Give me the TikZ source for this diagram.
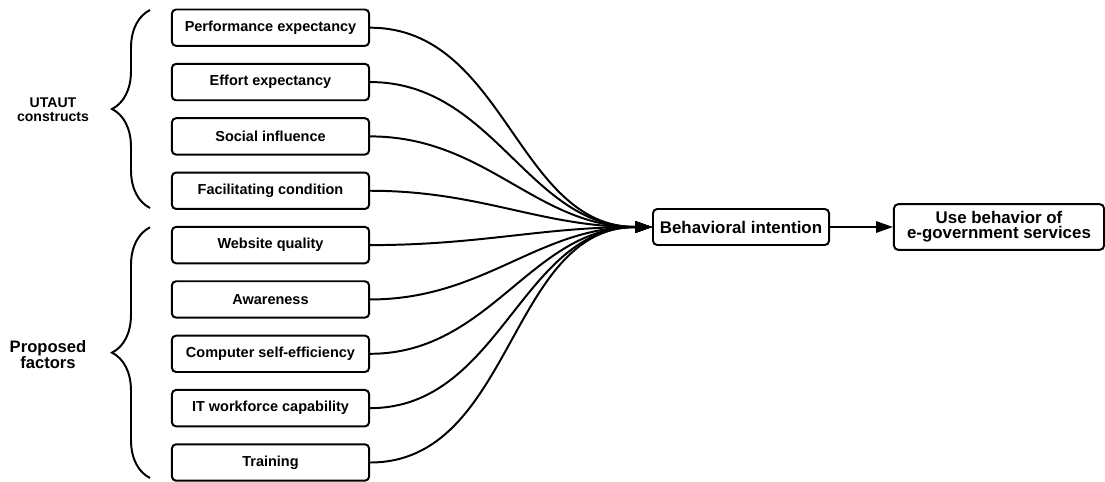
\documentclass[tikz,border=0pt]{standalone}
\usepackage{fontspec}
\setmainfont{Liberation Sans}
\usetikzlibrary{arrows.meta,decorations.pathreplacing}

\begin{document}
\begin{tikzpicture}[x=0.025cm,y=-0.025cm,
    factor/.style={draw,line width=1.4pt,rounded corners=3pt,minimum width=4.93cm,minimum height=0.91cm,inner sep=0pt,font=\fontsize{10.3}{12}\selectfont\bfseries},
    target/.style={draw,line width=1.4pt,rounded corners=3pt,inner sep=0pt,align=center,font=\fontsize{12}{10.8}\selectfont\bfseries},
    group/.style={align=center,inner sep=0pt},
    grpbrace/.style={decorate,decoration={brace,amplitude=0.95cm},line width=1.4pt},
    link/.style={-{Triangle[length=0.42cm,width=0.28cm]},line width=1.4pt}]
    \useasboundingbox (0,0) rectangle (1105,481);

    \node[factor] (pe) at (270.5,27.7) {Performance expectancy};
    \node[factor] (ee) at (270.5,82.05) {Effort expectancy};
    \node[factor] (si) at (270.5,136.4) {Social influence};
    \node[factor] (fc) at (270.5,190.75) {Facilitating condition};
    \node[factor] (wq) at (270.5,245.1) {Website quality};
    \node[factor] (aw) at (270.5,299.45) {Awareness};
    \node[factor] (cse) at (270.5,353.8) {Computer self-efficiency};
    \node[factor] (itw) at (270.5,408.15) {IT workforce capability};
    \node[factor] (tr) at (270.5,462.5) {Training};

    \node[target,minimum width=4.4cm,minimum height=0.9cm] (bi) at (741,227) {Behavioral intention};
    \node[target,minimum width=5.25cm,minimum height=1.14cm] (use) at (999,227) {Use behavior of\\e-government services};

    \node[group,font=\fontsize{10}{10.2}\selectfont\bfseries] (utaut) at (53,110) {UTAUT\\constructs};
    \node[group,font=\fontsize{11.8}{11.4}\selectfont\bfseries] (prop) at (48,355) {Proposed\\factors};

    \coordinate (utop) at (150,10);
    \coordinate (ubot) at (150,208);
    \coordinate (ptop) at (150,227.3);
    \coordinate (pbot) at (150,478);
    \draw[grpbrace] (ubot) -- (utop);
    \draw[grpbrace] (pbot) -- (ptop);

    \path[link]
    (pe) edge [out=0, in=180] (bi)
    (ee) edge [out=0, in=180] (bi)
    (si) edge [out=0, in=180] (bi)
    (fc) edge [out=0, in=180] (bi)
    (wq) edge [out=0, in=180] (bi)
    (aw) edge [out=0, in=180] (bi)
    (cse) edge [out=0, in=180] (bi)
    (itw) edge [out=0, in=180] (bi)
    (tr) edge [out=0, in=180] (bi)
    (bi) edge [] (use);

\end{tikzpicture}
\end{document}
